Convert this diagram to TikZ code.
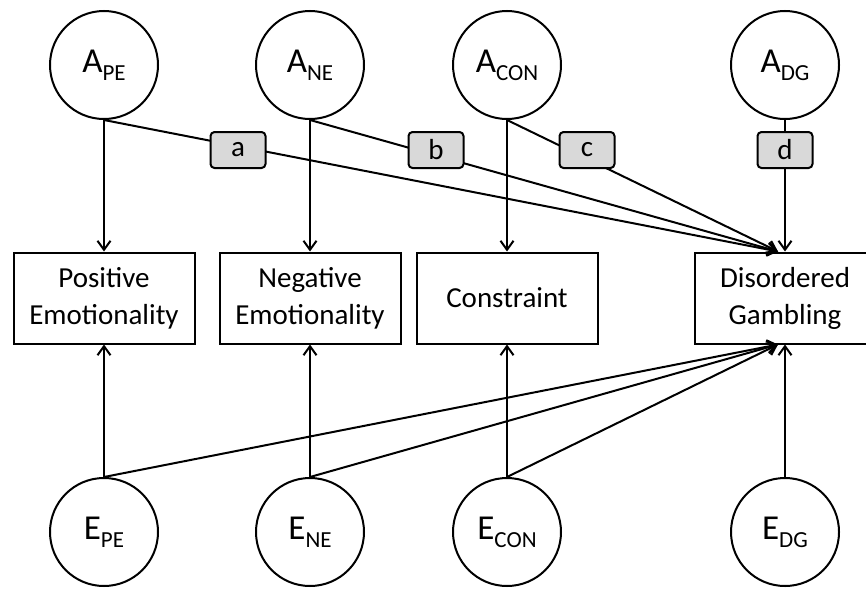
\documentclass[tikz,border=0pt]{standalone}
\usepackage{fontspec}
\setmainfont{Carlito}
\usetikzlibrary{arrows.meta,calc}
\newcommand\latname[2]{{\fontsize{35}{40}\selectfont #1}\raisebox{-8pt}{\fontsize{23}{26}\selectfont #2}}
\begin{document}
\begin{tikzpicture}[x=1pt,y=-1pt,
  lat/.style={draw,circle,line width=2pt,minimum size=108pt,inner sep=0pt},
  obs/.style={draw,rectangle,line width=2pt,minimum width=181pt,minimum height=91pt,inner sep=0pt,align=center,font=\fontsize{29}{37}\selectfont},
  lbl/.style={draw,rounded corners=4pt,fill=black!15,line width=2pt,minimum width=55pt,minimum height=36pt,inner sep=0pt,font=\fontsize{29}{34}\selectfont},
  conn/.style={line width=2pt,-{Straight Barb[length=9pt,width=13pt,line width=2pt]}}
]
\useasboundingbox (0,0) rectangle (866,589);
% latent factors
\node[lat] (ape) at (104,65) {\latname{A}{PE}};
\node[lat] (ane) at (310,65) {\latname{A}{NE}};
\node[lat] (acon) at (507,65) {\latname{A}{CON}};
\node[lat] (adg) at (785,65) {\latname{A}{DG}};
\node[lat] (epe) at (104,532) {\latname{E}{PE}};
\node[lat] (ene) at (310,532) {\latname{E}{NE}};
\node[lat] (econ) at (507,532) {\latname{E}{CON}};
\node[lat] (edg) at (785,532) {\latname{E}{DG}};
% observed
\node[obs] (pe) at (104,298) {Positive\\Emotionality};
\node[obs] (ne) at (310,298) {Negative\\Emotionality};
\node[obs] (con) at (507,298) {Constraint};
\node[obs] (dg) at (785,298) {Disordered\\Gambling};
\coordinate (dgt) at ($(dg.north)+(-7,0)$);
\coordinate (dgb) at ($(dg.south)+(-7,0)$);
% vertical paths
\draw[conn] (ape) -- (pe);
\draw[conn] (ane) -- (ne);
\draw[conn] (acon) -- (con);
\draw[conn] (epe) -- (pe);
\draw[conn] (ene) -- (ne);
\draw[conn] (econ) -- (con);
\draw[conn] (edg) -- (dg);
% cross paths A
\draw[conn] (ape.south) -- (dgt);
\draw[conn] (ane.south) -- (dgt);
\draw[conn] (acon.south) -- (dgt);
\draw[conn] (adg.south) -- (dg.north);
% path labels
\node[lbl] (la) at (238,150) {a};
\node[lbl] (lb) at (436,150) {b};
\node[lbl] (lc) at (587,150) {c};
\node[lbl] (ld) at (785,150) {d};
% cross paths E
\draw[conn] (epe.north) -- (dgb);
\draw[conn] (ene.north) -- (dgb);
\draw[conn] (econ.north) -- (dgb);
\end{tikzpicture}
\end{document}
